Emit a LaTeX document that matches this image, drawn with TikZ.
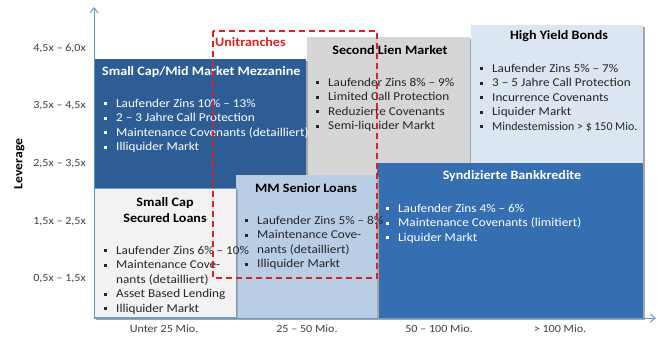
\documentclass[tikz,border=0pt]{standalone}
\usepackage{fontspec}
\setmainfont{Carlito}[FakeStretch=1.1]
\usetikzlibrary{arrows.meta}

\definecolor{mezzblue}{HTML}{2E5D96}
\definecolor{syndblue}{HTML}{366EB2}
\definecolor{liengray}{HTML}{D6D6D6}
\definecolor{hyblue}{HTML}{DCE6F2}
\definecolor{seniorblue}{HTML}{B9CDE5}
\definecolor{securedgray}{HTML}{F2F2F2}
\definecolor{securedline}{HTML}{7A9CCB}
\definecolor{axisblue}{HTML}{5B9BD5}
\definecolor{unired}{HTML}{E01F25}
\definecolor{bodytext}{HTML}{262626}
\definecolor{ticktext}{HTML}{404040}
\definecolor{shadowgray}{HTML}{A6A6A6}

% square bullet, list item and continuation line
\newcommand\sqbul{\raisebox{1.8pt}{\rule{3pt}{3pt}}}
\newcommand\litem[1]{\makebox[12pt][l]{\sqbul}#1}
\newcommand\lcont[1]{\hspace*{12pt}#1}

\begin{document}
\begin{tikzpicture}[x=1pt,y=-1pt,
  boxshadow/.style={fill=shadowgray},
  title/.style={font=\fontsize{12.8}{16}\selectfont\bfseries, inner sep=0pt, align=center},
  % lists are placed by the baseline of their last line
  bullets/.style={font=\fontsize{12}{14.5}\selectfont, inner sep=0pt, align=left, anchor=base west, text=bodytext},
  ticklabel/.style={font=\fontsize{11}{13}\selectfont, text=ticktext, inner sep=0pt},
  axis/.style={draw=axisblue, line width=1pt, -{Straight Barb[length=5pt,width=8pt]}},
]
\useasboundingbox (0,0) rectangle (659,337);

% ---- market segments ----
% Second Lien Market
\fill[boxshadow] (309,39) rectangle (472,177);
\fill[liengray] (307,37) rectangle (470,175);
% High Yield Bonds
\fill[boxshadow] (473,27) rectangle (645,165);
\fill[hyblue] (471,25) rectangle (643,163);
% Small Cap/Mid Market Mezzanine
\fill[boxshadow] (96,61) rectangle (308,190);
\fill[mezzblue] (94,59) rectangle (306,188);
% Syndizierte Bankkredite
\fill[boxshadow] (379,165) rectangle (645,320);
\fill[syndblue] (377,163) rectangle (643,318);
% MM Senior Loans
\fill[boxshadow] (238,177) rectangle (379,320);
\fill[seniorblue] (236,175) rectangle (377,318);
% Small Cap Secured Loans
\fill[boxshadow] (96,190) rectangle (238,320);
\filldraw[fill=securedgray, draw=securedline, line width=0.8pt] (94.5,188.5) rectangle (236,317.5);

% ---- axes ----
\coordinate (origin) at (94,318);
\coordinate (ytip) at (94,7);
\coordinate (xtip) at (656,318);
\draw[axis] (origin) -- (ytip);
\draw[axis] (origin) -- (xtip);

% ---- leverage labels ----
\node[ticklabel, anchor=east] (l5) at (86,48) {4,5x – 6,0x};
\node[ticklabel, anchor=east] (l4) at (86,106) {3,5x – 4,5x};
\node[ticklabel, anchor=east] (l3) at (86,164) {2,5x – 3,5x};
\node[ticklabel, anchor=east] (l2) at (86,222) {1,5x – 2,5x};
\node[ticklabel, anchor=east] (l1) at (86,279) {0,5x – 1,5x};
\node[font=\fontsize{12.5}{14}\selectfont\bfseries, inner sep=0pt, rotate=90] (ylabel) at (19.5,164) {Leverage};

% ---- size labels ----
\node[ticklabel] (s1) at (164,329) {Unter 25 Mio.};
\node[ticklabel] (s2) at (307,329) {25 – 50 Mio.};
\node[ticklabel] (s3) at (439,329) {50 – 100 Mio.};
\node[ticklabel] (s4) at (560,329) {> 100 Mio.};

% ---- segment texts ----
\node[title, text=white, anchor=west] (mezzt) at (102,72) {Small Cap/Mid Market Mezzanine};
\node[bullets, text=white] (mezzb) at (104,150.5) {%
  \litem{Laufender Zins 10\% – 13\%}\\
  \litem{2 – 3 Jahre Call Protection}\\
  \litem{Maintenance Covenants (detailliert)}\\
  \litem{Illiquider Markt}};

\node[title] (lient) at (390,50) {Second Lien Market};
\node[bullets] (lienb) at (316,129.5) {%
  \litem{Laufender Zins 8\% – 9\%}\\
  \litem{Limited Call Protection}\\
  \litem{Reduzierte Covenants}\\
  \litem{Semi-liquider Markt}};

\node[title] (hyt) at (559,36) {High Yield Bonds};
\node[bullets] (hyb) at (480,130) {%
  \litem{Laufender Zins 5\% – 7\%}\\
  \litem{3 – 5 Jahre Call Protection}\\
  \litem{Incurrence Covenants}\\
  \litem{Liquider Markt}\\
  \litem{\scalebox{0.9}[1]{Mindestemission > \$ 150 Mio.}}};

\node[title, text=white] (syndt) at (512,176) {Syndizierte Bankkredite};
\node[bullets, text=white] (syndb) at (386,241) {%
  \litem{Laufender Zins 4\% – 6\%}\\
  \litem{Maintenance Covenants (limitiert)}\\
  \litem{Liquider Markt}};

\node[title] (seniort) at (306,188) {MM Senior Loans};
\node[bullets] (seniorb) at (245,267.5) {%
  \litem{Laufender Zins 5\% – 8\%}\\
  \litem{Maintenance Cove-}\\
  \lcont{nants (detailliert)}\\
  \litem{Illiquider Markt}};

\node[title] (securedt) at (165,210) {Small Cap\\Secured Loans};
\node[bullets] (securedb) at (104,312) {%
  \litem{Laufender Zins 6\% – 10\%}\\
  \litem{Maintenance Cove-}\\
  \lcont{nants (detailliert)}\\
  \litem{Asset Based Lending}\\
  \litem{Illiquider Markt}};

% ---- unitranche range ----
\coordinate (uninw) at (213,31);
\coordinate (unise) at (377,278);
\draw[unired, line width=1.5pt, dash pattern=on 6pt off 4pt] (uninw) rectangle (unise);
\node[title, text=unired, anchor=west] (unit) at (215,42) {Unitranches};
\end{tikzpicture}
\end{document}
